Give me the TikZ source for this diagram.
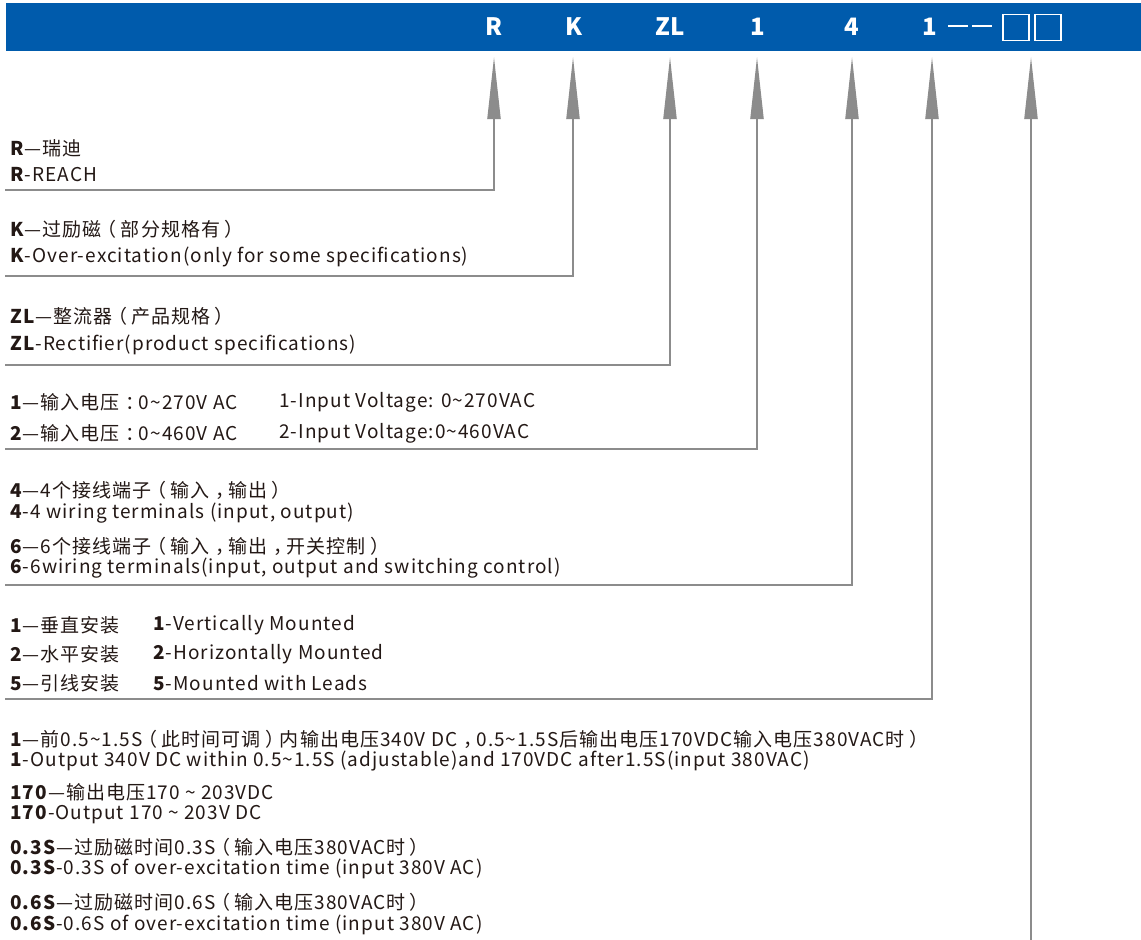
\documentclass[tikz,border=0pt]{standalone}
\usepackage{fontspec}
\setmainfont{Noto Sans CJK SC}[LetterSpace=5.5]
\newfontfamily\hdrfont{Noto Sans CJK SC}
\usetikzlibrary{arrows.meta}
\definecolor{hdrblue}{HTML}{005BAC}
\definecolor{linegray}{HTML}{8C8C8C}
\definecolor{txt}{HTML}{231815}
\newcommand\LP{\kern-0.22em（\kern0.22em}
\newcommand\RP{\kern0.22em）\kern-0.22em}
\newcommand\CM{\kern0.3em，\kern-0.3em}
\newcommand\CL{\kern0.3em：\kern-0.3em}
\tikzset{
  hdrtxt/.style={text=white,font=\fontsize{24}{24}\selectfont\hdrfont\bfseries,inner sep=0pt},
  desc/.style={anchor=west,inner sep=0pt,text=txt,font=\fontsize{19}{19}\selectfont},
  leader/.style={draw=linegray,line width=2pt,-{Triangle[length=62pt,width=13pt]}},
  hbox/.style={draw=white,line width=1.5pt,minimum width=26pt,minimum height=26pt,inner sep=0pt},
}
\begin{document}
\begin{tikzpicture}[x=1pt,y=-1pt]
\useasboundingbox (0,0) rectangle (1141,940);
\fill[white] (0,0) rectangle (1141,940);
% header
\fill[hdrblue] (6,3) rectangle (1141,51);
\node[hdrtxt] (hR) at (494,27) {R};
\node[hdrtxt] (hK) at (574,27) {K};
\node[hdrtxt] (hZL) at (670,27) {ZL};
\node[hdrtxt] (hA) at (758,27) {1};
\node[hdrtxt] (hB) at (852,27) {4};
\node[hdrtxt] (hC) at (930,27) {1};
\coordinate (dA) at (948,26);
\coordinate (dB) at (968,26);
\coordinate (dC) at (972,26);
\coordinate (dD) at (992,26);
\draw[white,line width=1.5pt] (dA) -- (dB) (dC) -- (dD);
\node[hbox] (bx1) at (1016,27.5) {};
\node[hbox] (bx2) at (1048,27.5) {};
% arrow tips
\coordinate (tR) at (494,57);
\coordinate (tK) at (573,57);
\coordinate (tZL) at (670,57);
\coordinate (tA) at (757,57);
\coordinate (tB) at (852,57);
\coordinate (tC) at (932,57);
\coordinate (tD) at (1031,57);
% corners
\coordinate (cR) at (494,190);
\coordinate (cK) at (573,276);
\coordinate (cZL) at (670,365);
\coordinate (cA) at (757,449);
\coordinate (cB) at (852,585);
\coordinate (cC) at (932,699);
\coordinate (cD) at (1031,941);
% left ends
\coordinate (lR) at (5,190);
\coordinate (lK) at (5,276);
\coordinate (lZL) at (5,365);
\coordinate (lA) at (5,449);
\coordinate (lB) at (5,585);
\coordinate (lC) at (5,699);
\draw[leader] (lR) -- (cR) -- (tR);
\draw[leader] (lK) -- (cK) -- (tK);
\draw[leader] (lZL) -- (cZL) -- (tZL);
\draw[leader] (lA) -- (cA) -- (tA);
\draw[leader] (lB) -- (cB) -- (tB);
\draw[leader] (lC) -- (cC) -- (tC);
\draw[leader] (cD) -- (tD);
% texts
\node[desc] (r1) at (10,148) {\textbf{R}—瑞迪};
\node[desc] (r2) at (10,175) {\textbf{R}-REACH};
\node[desc] (k1) at (10,229) {\textbf{K}—过励磁\LP 部分规格有\RP};
\node[desc] (k2) at (10,257) {\textbf{K}-Over-excitation(only for some specifications)};
\node[desc] (z1) at (10,316) {\textbf{ZL}—整流器\LP 产品规格\RP};
\node[desc] (z2) at (10,345) {\textbf{ZL}-Rectifier(product specifications)};
\node[desc] (a1) at (10,402) {\textbf{1}—输入电压\CL 0\textasciitilde270V AC};
\node[desc] (a1e) at (279,402) {1-Input Voltage: 0\textasciitilde270VAC};
\node[desc] (a2) at (10,433) {\textbf{2}—输入电压\CL 0\textasciitilde460V AC};
\node[desc] (a2e) at (279,433) {2-Input Voltage:0\textasciitilde460VAC};
\node[desc] (b1) at (10,490) {\textbf{4}—4个接线端子\LP 输入\CM 输出\RP};
\node[desc] (b2) at (10,513) {\textbf{4}-4 wiring terminals (input, output)};
\node[desc] (b3) at (10,546) {\textbf{6}—6个接线端子\LP 输入\CM 输出\CM 开关控制\RP};
\node[desc] (b4) at (10,568) {\textbf{6}-6wiring terminals(input, output and switching control)};
\node[desc] (c1) at (10,625) {\textbf{1}—垂直安装};
\node[desc] (c1e) at (153,625) {\textbf{1}-Vertically Mounted};
\node[desc] (c2) at (10,654) {\textbf{2}—水平安装};
\node[desc] (c2e) at (153,654) {\textbf{2}-Horizontally Mounted};
\node[desc] (c3) at (10,683) {\textbf{5}—引线安装};
\node[desc] (c3e) at (153,683) {\textbf{5}-Mounted with Leads};
\node[desc] (d1) at (10,739) {\textbf{1}—前0.5\textasciitilde1.5S\LP 此时间可调\RP 内输出电压340V DC\CM 0.5\textasciitilde1.5S后输出电压170VDC输入电压380VAC时\RP};
\node[desc] (d2) at (10,761) {\textbf{1}-Output 340V DC within 0.5\textasciitilde1.5S (adjustable)and 170VDC after1.5S(input 380VAC)};
\node[desc] (e1) at (10,792) {\textbf{170}—输出电压170 \textasciitilde{} 203VDC};
\node[desc] (e2) at (10,815) {\textbf{170}-Output 170 \textasciitilde{} 203V DC};
\node[desc] (f1) at (10,847) {\textbf{0.3S}—过励磁时间0.3S\LP 输入电压380VAC时\RP};
\node[desc] (f2) at (10,869) {\textbf{0.3S}-0.3S of over-excitation time (input 380V AC)};
\node[desc] (g1) at (10,902) {\textbf{0.6S}—过励磁时间0.6S\LP 输入电压380VAC时\RP};
\node[desc] (g2) at (10,925) {\textbf{0.6S}-0.6S of over-excitation time (input 380V AC)};
\end{tikzpicture}
\end{document}
